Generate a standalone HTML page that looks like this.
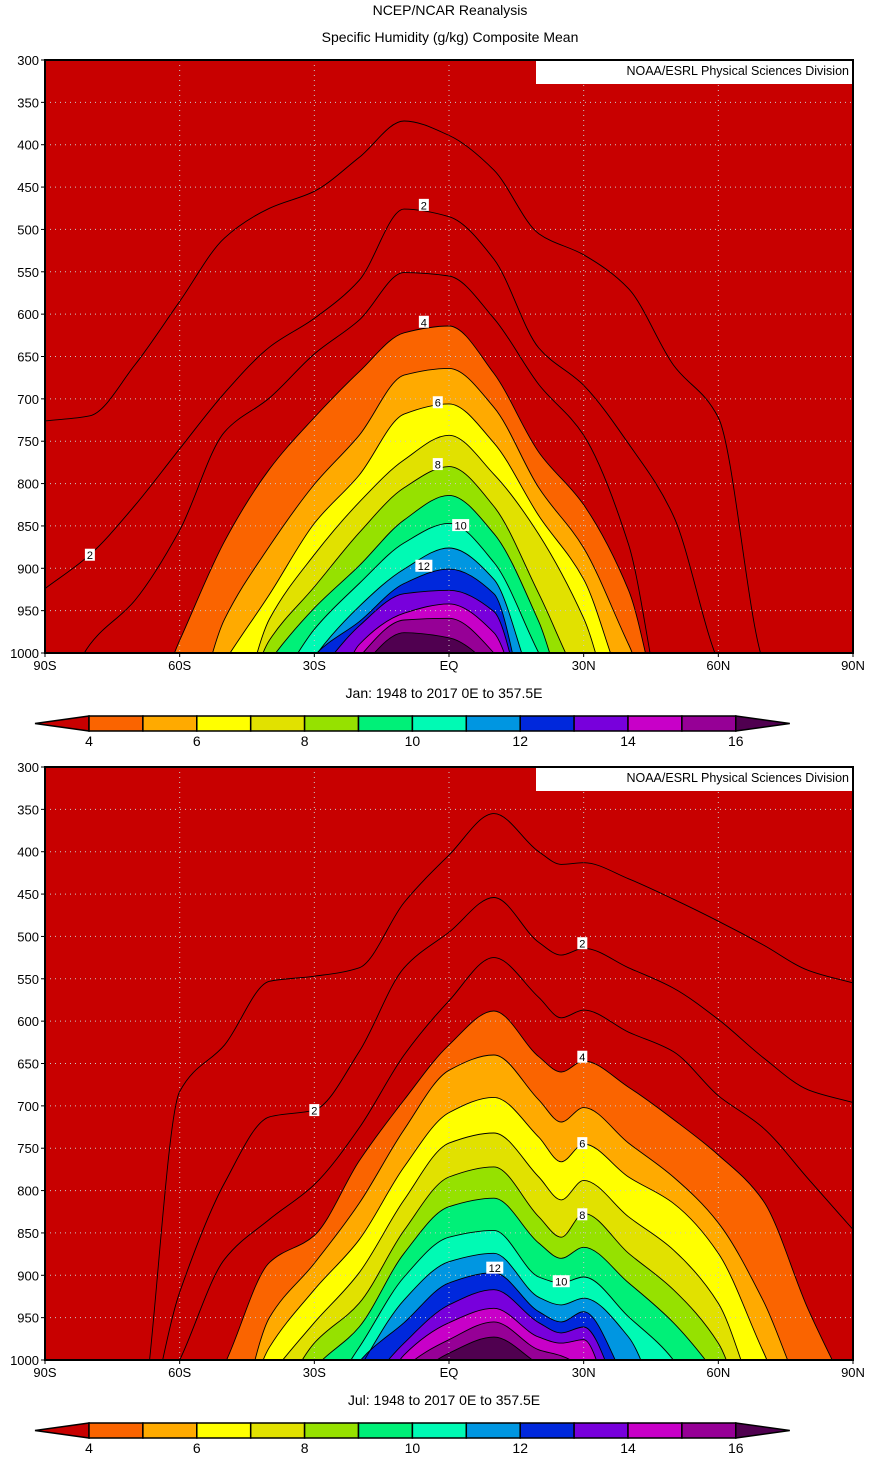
<!DOCTYPE html>
<html><head><meta charset="utf-8">
<style>
html,body{margin:0;padding:0;background:#fff;}
body{width:874px;height:1468px;overflow:hidden;font-family:"Liberation Sans",sans-serif;}
svg text{font-family:"Liberation Sans",sans-serif;}
</style></head>
<body>
<svg id="chart" width="874" height="1468" viewBox="0 0 874 1468" xmlns="http://www.w3.org/2000/svg">
<text x="450" y="15" font-size="14" text-anchor="middle">NCEP/NCAR Reanalysis</text>
<text x="450" y="42" font-size="14" text-anchor="middle">Specific Humidity (g/kg) Composite Mean</text>
</svg>
<script>
// ---- data ----
const janLats = [-90,-80,-70,-60,-50,-40,-30,-20,-10,0,10,20,30,40,50,60,70,80,90];
const julLats = [-90,-80,-70,-60,-50,-40,-30,-20,-10,0,10,20,25,30,40,50,60,70,80,90];
const levels = [1,2,3,4,5,6,7,8,9,10,11,12,13,14,15,16];
const pTicks = [300,350,400,450,500,550,600,650,700,750,800,850,900,950,1000];
const latTicks = ["90S","60S","30S","EQ","30N","60N","90N"];
const barLabels = [4,6,8,10,12,14,16];
const fillColors = ["#c80000","#fa6400","#ffaa00","#ffff00","#e1e100","#96e100","#00f078","#00fab4","#0096e1","#0028dc","#7800dc","#c800c8","#960096","#500050"];
// Jan isolines: pressure (hPa) where q = level, per latitude (>1000 = below surface)
const jan1 = [726,720,660,585,510,475,455,415,372,389,430,505,530,570,660,722,1010,1100,1100];
const jan2 = [924,884,826,759,693,639,605,560,476,485,535,640,684,753,838,1010,1100,1100,1100];
const jan3 = [1100,990,938,855,739,699,647,607,551,555,605,683,743,872,1100,1100,1100,1100,1100];
const jan4 = [1100,1100,1100,985,868,783,722,668,622,614,670,763,825,926,1100,1100,1100,1100,1100];
const jan5 = [1100,1100,1100,1100,960,874,801,743,672,664,710,805,876,990,1100,1100,1100,1100,1100];
const jan6 = [1100,1100,1100,1100,1010,931,847,790,718,706,752,838,913,1050,1100,1100,1100,1100,1100];
const jan7 = [1100,1100,1100,1100,1100,960,884,822,772,743,789,860,959,1100,1100,1100,1100,1100,1100];
const jan8 = [1100,1100,1100,1100,1100,985,922,858,805,780,827,930,1040,1100,1100,1100,1100,1100,1100];
const jan9 = [1100,1100,1100,1100,1100,1010,947,897,843,814,859,963,1100,1100,1100,1100,1100,1100,1100];
const jan10 = [1100,1100,1100,1100,1100,1050,972,918,870,847,893,1000,1100,1100,1100,1100,1100,1100,1100];
const jan11 = [1100,1100,1100,1100,1100,1100,1005,945,901,876,913,1050,1100,1100,1100,1100,1100,1100,1100];
const jan12 = [1100,1100,1100,1100,1100,1100,1003,963,918,901,930,1100,1100,1100,1100,1100,1100,1100,1100];
const jan13 = [1100,1100,1100,1100,1100,1100,1030,968,930,926,951,1100,1100,1100,1100,1100,1100,1100,1100];
const jan14 = [1100,1100,1100,1100,1100,1100,1100,990,953,942,976,1100,1100,1100,1100,1100,1100,1100,1100];
const jan15 = [1100,1100,1100,1100,1100,1100,1100,1005,961,959,1000,1100,1100,1100,1100,1100,1100,1100,1100];
const jan16 = [1100,1100,1100,1100,1100,1100,1100,1020,976,982,1020,1100,1100,1100,1100,1100,1100,1100,1100];
// Jul isolines (julLats grid, includes 25N)
const jul1 = [1100,1100,1100,683,628,553,547,537,460,404,355,400,415,413,432,456,482,510,540,555];
const jul2 = [1100,1100,1100,920,791,713,705,636,537,495,454,507,522,514,537,561,598,643,681,696];
const jul3 = [1100,1100,1100,1000,881,834,793,726,640,576,525,572,596,587,613,636,688,726,786,846];
const jul4 = [1100,1100,1100,1100,1005,885,853,765,693,628,588,642,660,647,678,716,758,812,940,1050];
const jul5 = [1100,1100,1100,1100,1100,950,886,815,728,658,640,693,719,702,744,784,838,930,1050,1100];
const jul6 = [1100,1100,1100,1100,1100,985,917,858,772,708,690,737,766,745,784,815,874,990,1100,1100];
const jul7 = [1100,1100,1100,1100,1100,1020,956,897,811,744,732,784,811,788,831,870,933,1060,1100,1100];
const jul8 = [1100,1100,1100,1100,1100,1060,980,933,847,784,772,831,855,827,874,917,980,1100,1100,1100];
const jul9 = [1100,1100,1100,1100,1100,1100,1010,961,874,819,809,862,880,867,909,956,1020,1100,1100,1100];
const jul10 = [1100,1100,1100,1100,1100,1100,1060,985,902,855,847,902,909,902,949,1000,1100,1100,1100,1100];
const jul11 = [1100,1100,1100,1100,1100,1100,1100,1010,929,884,874,926,935,927,973,1080,1100,1100,1100,1100];
const jul12 = [1100,1100,1100,1100,1100,1100,1100,1002,956,909,897,943,955,943,1030,1100,1100,1100,1100,1100];
const jul13 = [1100,1100,1100,1100,1100,1100,1100,1040,980,935,917,956,968,961,1060,1100,1100,1100,1100,1100];
const jul14 = [1100,1100,1100,1100,1100,1100,1100,1080,994,956,939,973,980,976,1100,1100,1100,1100,1100,1100];
const jul15 = [1100,1100,1100,1100,1100,1100,1100,1100,1010,976,955,988,995,1010,1100,1100,1100,1100,1100,1100];
const jul16 = [1100,1100,1100,1100,1100,1100,1100,1100,1030,992,973,1005,1020,1060,1100,1100,1100,1100,1100,1100];
// contour labels: [text, lat, pressure]
const janLabels = [["2",-5.6,471],["2",-80,884],["4",-5.6,609],["6",-2.5,704],["8",-2.5,777],["10",2.6,849],["12",-5.6,897]];
const julLabels = [["2",29.7,508],["2",-30,705],["4",29.7,642],["6",29.7,744],["8",29.7,828],["12",10.2,891],["10",25,907]];

const janSeries=[jan1,jan2,jan3,jan4,jan5,jan6,jan7,jan8,jan9,jan10,jan11,jan12,jan13,jan14,jan15,jan16];
const julSeries=[jul1,jul2,jul3,jul4,jul5,jul6,jul7,jul8,jul9,jul10,jul11,jul12,jul13,jul14,jul15,jul16];

const NS="http://www.w3.org/2000/svg";
const svg=document.getElementById('chart');
function mk(tag,attrs,parent){const e=document.createElementNS(NS,tag);for(const k in attrs)e.setAttribute(k,attrs[k]);(parent||svg).appendChild(e);return e;}

const L=45,R=853,H=593;
function monoPath(xs,ys){
  const n=xs.length,d=[],m=new Array(n);
  for(let i=0;i<n-1;i++)d.push((ys[i+1]-ys[i])/(xs[i+1]-xs[i]));
  m[0]=d[0];m[n-1]=d[n-2];
  for(let i=1;i<n-1;i++){
    if(d[i-1]*d[i]<=0)m[i]=0;
    else{const h0=xs[i]-xs[i-1],h1=xs[i+1]-xs[i];const w1=2*h1+h0,w2=h1+2*h0;m[i]=(w1+w2)/(w1/d[i-1]+w2/d[i]);}
  }
  let s="M"+xs[0].toFixed(1)+","+ys[0].toFixed(1);
  for(let i=0;i<n-1;i++){
    const h=xs[i+1]-xs[i];
    s+=" C"+(xs[i]+h/3).toFixed(1)+","+(ys[i]+m[i]*h/3).toFixed(1)+" "+(xs[i+1]-h/3).toFixed(1)+","+(ys[i+1]-m[i+1]*h/3).toFixed(1)+" "+xs[i+1].toFixed(1)+","+ys[i+1].toFixed(1);
  }
  return s;
}

function panel(top,lats,series,labels,caption,idx){
  const xS=lat=>L+(lat+90)*(R-L)/180;
  const yS=p=>top+(p-300)*H/700;
  const bottom=top+H;
  const g=mk('g',{});
  
  
  const cp=mk('clipPath',{id:'clip'+idx},g);
  mk('rect',{x:L,y:top,width:R-L,height:H},cp);
  const plot=mk('g',{'clip-path':'url(#clip'+idx+')'},g);
  const bg=mk('rect',{x:L,y:top,width:R-L,height:H,fill:fillColors[0]},plot);
  
  
  const xs=lats.map(xS);
  for(let li=3;li<levels.length;li++){
    const ys=series[li].map(yS);
    const d=monoPath(xs,ys)+" L"+(R+30)+","+(bottom+80)+" L"+(L-30)+","+(bottom+80)+" Z";
    const f=mk('path',{d:d,fill:fillColors[li-2],stroke:'none'},plot);
    
    
  }
  for(let i=1;i<pTicks.length-1;i++){
    const y=yS(pTicks[i]);
    mk('line',{x1:L,x2:R,y1:y,y2:y,stroke:'#c8c8c8','stroke-width':1,'stroke-dasharray':'1,4'},plot);
  }
  for(let i=1;i<latTicks.length-1;i++){
    const x=xS(-90+i*30);
    mk('line',{x1:x,x2:x,y1:top,y2:bottom,stroke:'#c8c8c8','stroke-width':1,'stroke-dasharray':'1,4'},plot);
  }
  for(let li=0;li<levels.length;li++){
    const ys=series[li].map(yS);
    const c=mk('path',{d:monoPath(xs,ys),fill:'none',stroke:'#000','stroke-width':0.9},plot);
    
    
  }
  labels.forEach(lb=>{
    const x=xS(lb[1]),y=yS(lb[2]);
    const w=lb[0].length*7+3;
    mk('rect',{x:x-w/2,y:y-6,width:w,height:12,fill:'#fff'},plot);
    const t=mk('text',{x:x,y:y+4.5,'font-size':11,'text-anchor':'middle'},plot);
    t.textContent=lb[0];
    
    
  });
  const cb=mk('rect',{x:536,y:top+1,width:316,height:23,fill:'#fff'},g);
  
  
  const ct=mk('text',{x:849,y:top+15,'font-size':12.5,'text-anchor':'end'},g);
  ct.textContent='NOAA/ESRL Physical Sciences Division';
  
  
  mk('rect',{x:L,y:top,width:R-L,height:H,fill:'none',stroke:'#000','stroke-width':2},g);
  pTicks.forEach(p=>{
    const y=yS(p);
    mk('line',{x1:L-4,x2:L,y1:y,y2:y,stroke:'#000','stroke-width':1},g);
    const t=mk('text',{x:L-6,y:y+5,'font-size':13,'text-anchor':'end'},g);
    t.textContent=p;
    
    
  });
  latTicks.forEach((lb,i)=>{
    const x=xS(-90+i*30);
    mk('line',{x1:x,x2:x,y1:bottom,y2:bottom+4,stroke:'#000','stroke-width':1},g);
    const t=mk('text',{x:x,y:bottom+17,'font-size':13,'text-anchor':'middle'},g);
    t.textContent=lb;
    
    
  });
  const cap=mk('text',{x:444,y:bottom+45,'font-size':14,'text-anchor':'middle'},g);
  cap.textContent=caption;
  
  
  const cy=bottom+63,ch=15,bx0=89,bw=53.9;
  const cbg=mk('g',{},g);
  
  
  mk('polygon',{points:`${bx0},${cy} ${bx0},${cy+ch} 35,${cy+ch/2}`,fill:fillColors[0],stroke:'#000','stroke-width':1.5},cbg);
  for(let i=1;i<fillColors.length-1;i++){
    mk('rect',{x:bx0+(i-1)*bw,y:cy,width:bw,height:ch,fill:fillColors[i],stroke:'#000','stroke-width':1.5},cbg);
  }
  const ex=bx0+12*bw;
  mk('polygon',{points:`${ex},${cy} ${ex},${cy+ch} ${ex+54},${cy+ch/2}`,fill:fillColors[fillColors.length-1],stroke:'#000','stroke-width':1.5},cbg);
  barLabels.forEach((v,i)=>{
    const t=mk('text',{x:bx0+i*2*bw,y:cy+ch+15,'font-size':14,'text-anchor':'middle'},cbg);
    t.textContent=v;
    
    
  });
}
panel(60,janLats,janSeries,janLabels,"Jan: 1948 to 2017 0E to 357.5E",1);
panel(767,julLats,julSeries,julLabels,"Jul: 1948 to 2017 0E to 357.5E",2);
</script>
</body></html>
